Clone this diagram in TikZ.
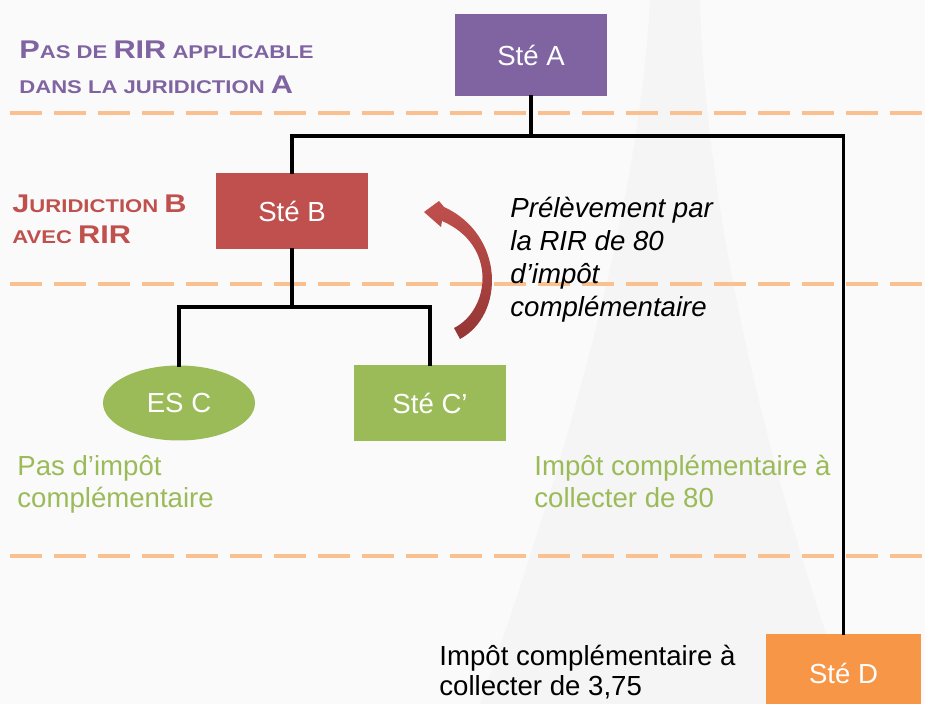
\documentclass[tikz,border=0pt]{standalone}
\usepackage{fontspec}
\setmainfont{Liberation Sans}
\usetikzlibrary{shapes.geometric}

\definecolor{bgcol}{HTML}{FAFAFA}
\definecolor{towercol}{HTML}{F2F2F2}
\definecolor{purp}{HTML}{8064A2}
\definecolor{redb}{HTML}{C0504D}
\definecolor{redd}{HTML}{943634}
\definecolor{grn}{HTML}{9BBB59}
\definecolor{orng}{HTML}{F79646}
\definecolor{dashcol}{HTML}{FAC090}

% fake small capitals for the jurisdiction headings
\newcommand\hdbig[1]{{\fontsize{12.8pt}{15pt}\selectfont #1}}
\newcommand\hdsml[1]{{\fontsize{9.2pt}{11pt}\selectfont #1}}
\newcommand\hdline[1]{\scalebox{1.2}[1]{#1}}

\tikzset{
  entity/.style={rectangle, minimum width=76pt, minimum height=38pt, inner sep=0pt,
                 text=white, font=\fontsize{13.8pt}{16pt}\selectfont},
  conn/.style={line width=1.8pt, black, line cap=rect},
  band/.style={dashcol, line width=2pt, dash pattern=on 16pt off 6pt},
  heading/.style={anchor=base west, inner sep=0pt, align=left},
  note/.style={anchor=base west, inner sep=0pt, align=left,
               font=\fontsize{13.8pt}{16pt}\selectfont},
}

\begin{document}
\begin{tikzpicture}[x=0.5pt, y=-0.5pt]
  % canvas
  \fill[bgcol] (0,0) rectangle (925,704);
  \useasboundingbox (0,0) rectangle (925,704);

  % faint tower silhouette in the background
  \fill[towercol, opacity=0.6]
    (650,0) -- (700,0)
    .. controls (705,200) and (760,450) .. (850,704)
    -- (480,704)
    .. controls (570,450) and (640,200) .. cycle;

  % jurisdiction separators
  \draw[band] (10,113) -- (925,113);
  \draw[band] (10,284) -- (925,284);
  \draw[band] (10,556) -- (925,556);

  % jurisdiction headings (anchored on the baseline of their last line)
  \node[heading, text=purp, font=\bfseries\fontsize{9.2pt}{17.5pt}\selectfont] (hA) at (19,94)
    {\hdline{\hdbig{P}\hdsml{AS DE }\hdbig{RIR}\hdsml{ APPLICABLE}}\\
     \hdline{\hdsml{DANS LA JURIDICTION }\hdbig{A}}};
  \node[heading, text=redb, font=\bfseries\fontsize{9.2pt}{15.5pt}\selectfont] (hB) at (12,244)
    {\hdline{\hdbig{J}\hdsml{URIDICTION }\hdbig{B}}\\
     \hdline{\hdsml{AVEC }\hdbig{RIR}}};

  % entities
  \node[entity, fill=purp, minimum height=41pt] (A) at (531,55) {Sté A};
  \node[entity, fill=redb] (B) at (292,211) {Sté B};
  \node[entity, ellipse, fill=grn, minimum height=37.5pt] (C) at (179,403) {ES C};
  \node[entity, fill=grn] (Cp) at (430,403) {Sté C’};
  \node[entity, fill=orng, minimum width=77.5pt, minimum height=39pt] (D) at (843.5,673) {Sté D};

  % ownership links
  \coordinate (j1) at (531,136);
  \coordinate (j2) at (292,307);
  \draw[conn] (A.south) -- (j1);
  \draw[conn] (B.north) |- (j1) -| (D.north);
  \draw[conn] (B.south) -- (j2);
  \draw[conn] (C.north) |- (j2) -| (Cp.north);

  % curved arrow for the amount collected by the RIR
  \shade[top color=redb, bottom color=redd]
    (454,328) .. controls (490,310) and (498,245) .. (442,221)
    -- (441,227) -- (424,212) -- (439,201) -- (444,207)
    .. controls (505,235) and (505,315) .. (460,339) -- cycle;

  % annotations (anchored on the baseline of their last line)
  \node[note, font=\itshape\fontsize{13.8pt}{16.5pt}\selectfont] (prel) at (510,317)
    {Prélèvement par\\la RIR de 80\\d’impôt\\complémentaire};
  \node[note, text=grn] (nC) at (17,508) {Pas d’impôt\\complémentaire};
  \node[note, text=grn] (nCp) at (534,508) {Impôt complémentaire à\\collecter de 80};
  \node[note, font=\fontsize{13.8pt}{15pt}\selectfont] (nD) at (439,695)
    {Impôt complémentaire à\\collecter de 3,75};
\end{tikzpicture}
\end{document}
